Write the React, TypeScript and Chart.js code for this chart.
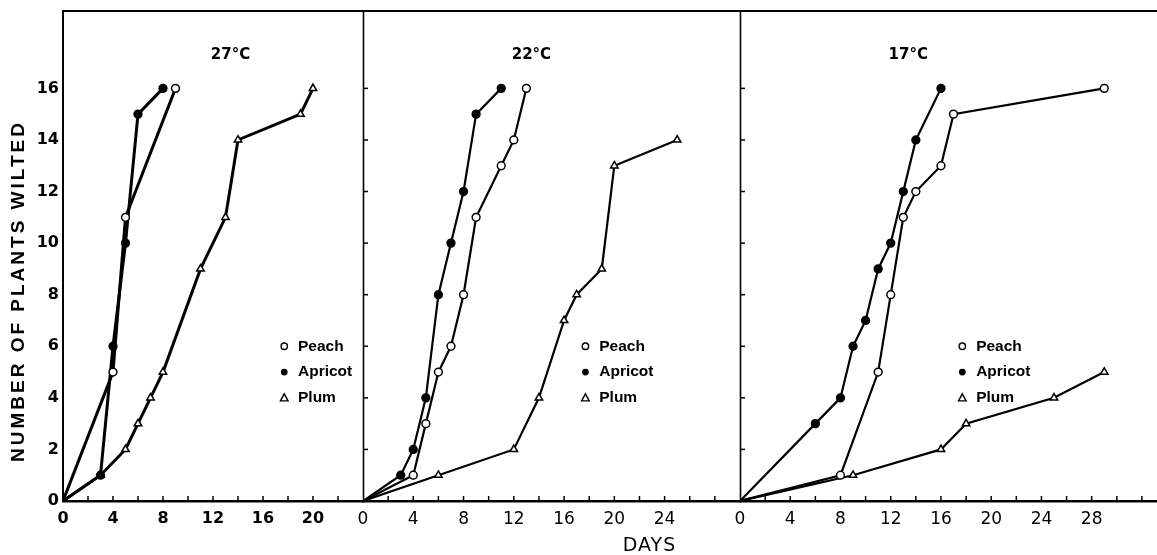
import React, { useEffect, useRef } from 'react';
import { Chart, registerables } from 'chart.js';

Chart.register(...registerables);

// ---------- data ----------
const PANEL_TITLES = ['27°C', '22°C', '17°C'];
const X_MAX = [24, 30, 33.2];
const X_LABELS = [
  [0, 4, 8, 12, 16, 20],
  [0, 4, 8, 12, 16, 20, 24],
  [0, 4, 8, 12, 16, 20, 24, 28],
];
const Y_TICKS = [0, 2, 4, 6, 8, 10, 12, 14, 16];
const LEGEND_LABELS = ['Peach', 'Apricot', 'Plum'];
const Y_TITLE = 'NUMBER OF PLANTS WILTED';
const X_TITLE = 'DAYS';

// 27 °C
const days27Peach = [0, 4, 5, 9];
const wilted27Peach = [0, 5, 11, 16];
const days27Apricot = [0, 3, 4, 5, 6, 8];
const wilted27Apricot = [0, 1, 6, 10, 15, 16];
const days27Plum = [0, 3, 5, 6, 7, 8, 11, 13, 14, 19, 20];
const wilted27Plum = [0, 1, 2, 3, 4, 5, 9, 11, 14, 15, 16];

// 22 °C
const days22Peach = [0, 4, 5, 6, 7, 8, 9, 11, 12, 13];
const wilted22Peach = [0, 1, 3, 5, 6, 8, 11, 13, 14, 16];
const days22Apricot = [0, 3, 4, 5, 6, 7, 8, 9, 11];
const wilted22Apricot = [0, 1, 2, 4, 8, 10, 12, 15, 16];
const days22Plum = [0, 6, 12, 14, 16, 17, 19, 20, 25];
const wilted22Plum = [0, 1, 2, 4, 7, 8, 9, 13, 14];

// 17 °C
const days17Peach = [0, 8, 11, 12, 13, 14, 16, 17, 29];
const wilted17Peach = [0, 1, 5, 8, 11, 12, 13, 15, 16];
const days17Apricot = [0, 6, 8, 9, 10, 11, 12, 13, 14, 16];
const wilted17Apricot = [0, 3, 4, 6, 7, 9, 10, 12, 14, 16];
const days17Plum = [0, 9, 16, 18, 25, 29];
const wilted17Plum = [0, 1, 2, 3, 4, 5];

// ---------- layout / styling ----------
const PANEL_WIDTHS = [300, 377, 417];

const SERIES_STYLE: Record<string, { style: string; fill: string }> = {
  Peach: { style: 'circle', fill: '#fff' },
  Apricot: { style: 'circle', fill: '#000' },
  Plum: { style: 'triangle', fill: '#fff' },
};

function makeDataset(panel: number, kind: string, days: number[], wilted: number[]) {
  const s = SERIES_STYLE[kind];
  return {
    label: kind,
    xAxisID: 'x' + panel,
    yAxisID: 'y',
    data: days.map((d, k) => ({ x: d, y: wilted[k] })),
    borderColor: '#000',
    borderWidth: panel === 0 ? 3 : 2.2,
    tension: 0,
    fill: false,
    pointStyle: s.style,
    pointBackgroundColor: s.fill,
    pointBorderColor: '#000',
    pointBorderWidth: 1.5,
    pointRadius: (ctx: any) => {
      const raw = ctx && ctx.raw;
      if (raw && raw.x === 0) {
        return panel === 0 && kind === 'Apricot' ? 4.5 : 0;
      }
      return kind === 'Plum' ? 4.3 : 3.9;
    },
  };
}

const datasets = [
  makeDataset(0, 'Peach', days27Peach, wilted27Peach),
  makeDataset(0, 'Apricot', days27Apricot, wilted27Apricot),
  makeDataset(0, 'Plum', days27Plum, wilted27Plum),
  makeDataset(1, 'Peach', days22Peach, wilted22Peach),
  makeDataset(1, 'Apricot', days22Apricot, wilted22Apricot),
  makeDataset(1, 'Plum', days22Plum, wilted22Plum),
  makeDataset(2, 'Peach', days17Peach, wilted17Peach),
  makeDataset(2, 'Apricot', days17Apricot, wilted17Apricot),
  makeDataset(2, 'Plum', days17Plum, wilted17Plum),
];

const TICK_FONT_BOLD = { family: '"DejaVu Sans", sans-serif', size: 16, weight: 'bold' as const };
const TICK_FONT_LIGHT = { family: '"DejaVu Sans", sans-serif', size: 17, weight: 'normal' as const };

function xScale(i: number) {
  return {
    type: 'linear' as const,
    position: 'bottom' as const,
    stack: 'panels',
    stackWeight: PANEL_WIDTHS[i],
    min: 0,
    max: X_MAX[i],
    grid: { display: false, drawTicks: false },
    border: { display: true, color: '#000', width: 2.5 },
    ticks: {
      color: '#000',
      font: i === 0 ? TICK_FONT_BOLD : TICK_FONT_LIGHT,
      padding: 8,
      maxRotation: 0,
      autoSkip: false,
    },
    afterBuildTicks: (s: any) => {
      s.ticks = X_LABELS[i].map((v) => ({ value: v }));
    },
    afterFit: (s: any) => {
      s.height = 54;
      s.paddingLeft = 0;
      s.paddingRight = 0;
    },
  };
}

// legend / label placement (in data units of each panel)
const LEGEND_MARK_X = 17.7;
const LEGEND_TEXT_X = 18.8;
const LEGEND_ROWS = [6, 5, 4];
const TITLE_X = 13.4;
const TITLE_Y = 17.3;
const DAYS_X = 22.8;

const decorPlugin = {
  id: 'decor',
  afterDraw(chart: any) {
    const ctx: CanvasRenderingContext2D = chart.ctx;
    const area = chart.chartArea;
    const y = chart.scales.y;
    const xs = [chart.scales.x0, chart.scales.x1, chart.scales.x2];
    ctx.save();
    ctx.strokeStyle = '#000';
    ctx.fillStyle = '#000';

    // top frame line
    ctx.lineWidth = 2;
    ctx.beginPath();
    ctx.moveTo(area.left - 1, area.top);
    ctx.lineTo(area.right, area.top);
    ctx.stroke();

    // panel dividers
    ctx.lineWidth = 1.6;
    for (let i = 1; i < 3; i++) {
      const px = Math.round(xs[i].left) + 0.5;
      ctx.beginPath();
      ctx.moveTo(px, area.top);
      ctx.lineTo(px, area.bottom);
      ctx.stroke();
    }

    // inward y ticks on dividers
    ctx.lineWidth = 1.5;
    for (let i = 1; i < 3; i++) {
      const px = xs[i].left;
      for (const v of Y_TICKS) {
        if (v === 0) continue;
        const py = y.getPixelForValue(v);
        ctx.beginPath();
        ctx.moveTo(px, py);
        ctx.lineTo(px + 5, py);
        ctx.stroke();
      }
    }

    // inward x ticks every 2 days
    ctx.lineWidth = 1.5;
    xs.forEach((s: any, i: number) => {
      for (let v = 2; v < X_MAX[i] - 0.5; v += 2) {
        const px = s.getPixelForValue(v);
        ctx.beginPath();
        ctx.moveTo(px, area.bottom);
        ctx.lineTo(px, area.bottom - 5);
        ctx.stroke();
      }
    });

    // panel titles
    ctx.font = 'bold 15px "DejaVu Sans", sans-serif';
    ctx.textAlign = 'center';
    ctx.textBaseline = 'middle';
    xs.forEach((s: any, i: number) => {
      ctx.fillText(PANEL_TITLES[i], s.getPixelForValue(TITLE_X), y.getPixelForValue(TITLE_Y));
    });

    // legends
    xs.forEach((s: any) => {
      const mx = s.getPixelForValue(LEGEND_MARK_X);
      const tx = s.getPixelForValue(LEGEND_TEXT_X);
      LEGEND_LABELS.forEach((lab, k) => {
        const py = y.getPixelForValue(LEGEND_ROWS[k]);
        ctx.lineWidth = 1.4;
        if (lab === 'Peach') {
          ctx.beginPath();
          ctx.arc(mx, py, 3.2, 0, Math.PI * 2);
          ctx.fillStyle = '#fff';
          ctx.fill();
          ctx.stroke();
        } else if (lab === 'Apricot') {
          ctx.beginPath();
          ctx.arc(mx, py, 3.4, 0, Math.PI * 2);
          ctx.fillStyle = '#000';
          ctx.fill();
        } else {
          ctx.beginPath();
          ctx.moveTo(mx, py - 4);
          ctx.lineTo(mx + 3.8, py + 3);
          ctx.lineTo(mx - 3.8, py + 3);
          ctx.closePath();
          ctx.fillStyle = '#fff';
          ctx.fill();
          ctx.stroke();
        }
        ctx.fillStyle = '#000';
        ctx.font = 'bold 15.5px "Liberation Sans", Arial, sans-serif';
        ctx.textAlign = 'left';
        ctx.textBaseline = 'middle';
        ctx.fillText(lab, tx, py);
      });
    });

    // y-axis title
    ctx.save();
    ctx.translate(19, (area.top + area.bottom) / 2 + 35);
    ctx.rotate(-Math.PI / 2);
    ctx.font = 'bold 19px "Liberation Sans", Arial, sans-serif';
    (ctx as any).letterSpacing = '3px';
    ctx.textAlign = 'center';
    ctx.textBaseline = 'middle';
    ctx.fillText(Y_TITLE, 0, 0);
    ctx.restore();

    // x-axis title
    ctx.save();
    ctx.font = '19px "DejaVu Sans", sans-serif';
    (ctx as any).letterSpacing = '1px';
    ctx.textAlign = 'center';
    ctx.textBaseline = 'middle';
    ctx.fillText(X_TITLE, xs[1].getPixelForValue(DAYS_X), chart.height - 9);
    ctx.restore();

    ctx.restore();
  },
};

export default function App() {
  const ref = useRef<HTMLCanvasElement>(null);
  useEffect(() => {
    const canvas = ref.current;
    if (!canvas) return;
    const chart = new Chart(canvas, {
      type: 'line',
      data: { datasets: datasets as any },
      options: {
        responsive: false,
        animation: false,
        devicePixelRatio: 1,
        layout: { autoPadding: false, padding: { top: 11, left: 0, right: 0, bottom: 0 } },
        plugins: { legend: { display: false }, tooltip: { enabled: false }, title: { display: false } },
        scales: {
          y: {
            type: 'linear',
            position: 'left',
            min: 0,
            max: 19,
            grid: { display: false, drawTicks: false },
            border: { display: true, color: '#000', width: 2 },
            ticks: { color: '#000', font: TICK_FONT_BOLD, padding: 4 },
            afterBuildTicks: (s: any) => {
              s.ticks = Y_TICKS.map((v) => ({ value: v }));
            },
            afterFit: (s: any) => {
              s.width = 63;
              s.paddingTop = 0;
              s.paddingBottom = 0;
            },
          },
          x0: xScale(0),
          x1: xScale(1),
          x2: xScale(2),
        } as any,
      },
      plugins: [decorPlugin],
    });
    return () => chart.destroy();
  }, []);
  return (
    <div style={{ position: 'absolute', left: 0, top: 0, width: 1157, height: 555, background: '#fff' }}>
      <canvas ref={ref} width={1157} height={555} style={{ display: 'block' }} />
    </div>
  );
}
